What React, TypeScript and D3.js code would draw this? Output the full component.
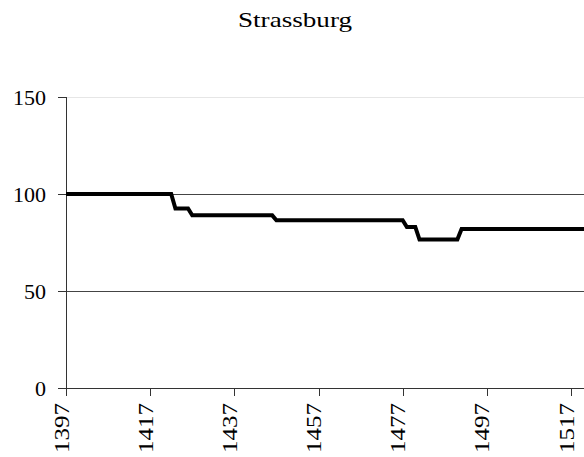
import React from "react";
import * as d3 from "d3";

const title = "Strassburg";
const years = [1397, 1422, 1423, 1426, 1427, 1446, 1447, 1477, 1478, 1480, 1481, 1490, 1491, 1521];
const values = [100, 100, 92.5, 92.5, 89, 89, 86.5, 86.5, 83, 83, 76.5, 76.5, 82, 82];
const xTickYears = [1397, 1417, 1437, 1457, 1477, 1497, 1517];
const yTicks = [0, 50, 100, 150];

export default function App() {
  const W = 584;
  const H = 457;
  const x = d3.scaleLinear().domain([1397, 1517]).range([66, 571]);
  const y = d3.scaleLinear().domain([0, 150]).range([388, 97]);
  const data = years.map((yr, i) => ({ yr, v: values[i] }));
  const line = d3
    .line<{ yr: number; v: number }>()
    .x((d) => x(d.yr))
    .y((d) => y(d.v));
  const fontStyle = { fontFamily: "'Liberation Serif', 'DejaVu Serif', serif" };
  return (
    <svg
      width={W}
      height={H}
      style={{ position: "absolute", left: 0, top: 0, background: "#fff" }}
    >
      <text
        x={295}
        y={27}
        textAnchor="middle"
        style={fontStyle}
        fontSize={21}
        textLength={114}
        lengthAdjust="spacingAndGlyphs"
        fill="#000"
      >
        {title}
      </text>
      {yTicks
        .filter((t) => t > 0)
        .map((t) => (
          <line
            key={"g" + t}
            x1={66}
            x2={W}
            y1={Math.round(y(t)) + 0.5}
            y2={Math.round(y(t)) + 0.5}
            stroke={t === 150 ? "#e6e6e6" : "#444"}
            strokeWidth={1}
          />
        ))}
      <line x1={66.5} x2={66.5} y1={Math.round(y(150))} y2={Math.round(y(0)) + 1} stroke="#333" />
      {yTicks.map((t) => (
        <g key={"y" + t}>
          <line
            x1={58}
            x2={66}
            y1={Math.round(y(t)) + 0.5}
            y2={Math.round(y(t)) + 0.5}
            stroke="#333"
          />
          <text
            x={46}
            y={y(t) + 7.5}
            textAnchor="end"
            style={fontStyle}
            fontSize={21}
            textLength={String(t).length * 11}
            lengthAdjust="spacingAndGlyphs"
            fill="#000"
          >
            {t}
          </text>
        </g>
      ))}
      <line x1={66} x2={W} y1={Math.round(y(0)) + 0.5} y2={Math.round(y(0)) + 0.5} stroke="#333" />
      {xTickYears.map((yr) => (
        <g key={"x" + yr}>
          <line
            x1={Math.round(x(yr)) + 0.5}
            x2={Math.round(x(yr)) + 0.5}
            y1={Math.round(y(0))}
            y2={Math.round(y(0)) + 8}
            stroke="#333"
          />
          <text
            transform={`translate(${x(yr) + 2.5},${403}) rotate(-90)`}
            textAnchor="end"
            style={fontStyle}
            fontSize={21}
            textLength={50}
            lengthAdjust="spacingAndGlyphs"
            fill="#000"
          >
            {yr}
          </text>
        </g>
      ))}
      <path d={line(data) || ""} fill="none" stroke="#000" strokeWidth={4} strokeLinejoin="miter" />
    </svg>
  );
}
